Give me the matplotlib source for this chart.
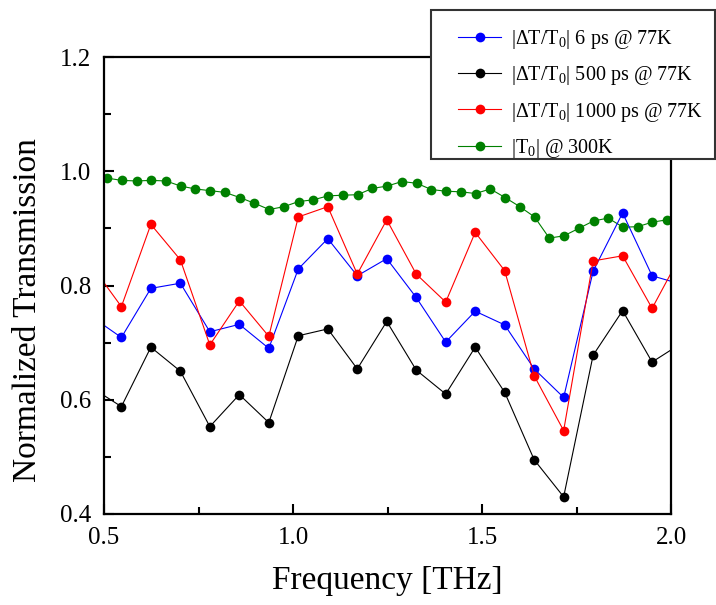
import matplotlib
matplotlib.use('Agg')
import matplotlib.pyplot as plt
from matplotlib.patches import Rectangle
from matplotlib.ticker import MultipleLocator

plt.rcParams['font.family'] = ['Liberation Serif', 'DejaVu Serif']
plt.rcParams['mathtext.fontset'] = 'custom'
plt.rcParams['mathtext.rm'] = 'Liberation Serif'

# frequency points of the pump-probe series (THz)
freq_pp = [0.468, 0.546, 0.624, 0.702, 0.780, 0.858, 0.936, 1.014, 1.092, 1.170, 1.248,
           1.326, 1.404, 1.482, 1.560, 1.638, 1.716, 1.794, 1.872, 1.950, 2.028]
dt_6ps = [0.745, 0.709, 0.795, 0.804, 0.719, 0.732, 0.690, 0.829, 0.882, 0.817, 0.847,
          0.779, 0.701, 0.755, 0.731, 0.654, 0.604, 0.825, 0.927, 0.817, 0.802]
dt_500ps = [0.621, 0.588, 0.692, 0.650, 0.553, 0.609, 0.560, 0.712, 0.724, 0.654, 0.737,
            0.652, 0.610, 0.692, 0.613, 0.495, 0.430, 0.678, 0.756, 0.666, 0.699]
dt_1000ps = [0.834, 0.763, 0.907, 0.845, 0.696, 0.773, 0.711, 0.920, 0.938, 0.820, 0.915,
             0.820, 0.771, 0.893, 0.826, 0.642, 0.546, 0.843, 0.852, 0.760, 0.856]

# room temperature transmission, finer frequency grid
freq_t0 = [0.508, 0.547, 0.586, 0.625, 0.664, 0.703, 0.742, 0.781, 0.820, 0.859,
           0.898, 0.937, 0.976, 1.015, 1.054, 1.093, 1.132, 1.171, 1.210, 1.249,
           1.288, 1.327, 1.366, 1.405, 1.444, 1.483, 1.522, 1.561, 1.600, 1.639,
           1.678, 1.717, 1.756, 1.795, 1.834, 1.873, 1.912, 1.951, 1.990]
t0_300k = [0.988, 0.984, 0.983, 0.984, 0.983, 0.974, 0.969, 0.966, 0.963, 0.954,
           0.944, 0.933, 0.938, 0.947, 0.950, 0.957, 0.958, 0.959, 0.970, 0.974,
           0.982, 0.979, 0.968, 0.965, 0.964, 0.961, 0.969, 0.954, 0.938, 0.920,
           0.883, 0.887, 0.900, 0.913, 0.918, 0.902, 0.903, 0.911, 0.915]

labels = [r'|ΔT/T$_\mathrm{0}$| 6 ps @ 77K',
          r'|ΔT/T$_\mathrm{0}$| 500 ps @ 77K',
          r'|ΔT/T$_\mathrm{0}$| 1000 ps @ 77K',
          r'|T$_\mathrm{0}$| @ 300K']

fig = plt.figure(figsize=(7.16, 6.05), dpi=100)
ax = fig.add_axes([104 / 716, 1 - 514 / 605, 567 / 716, 457 / 605])

style = dict(marker='o', markersize=7, linewidth=0.8, markeredgewidth=0)
lg, = ax.plot(freq_t0, t0_300k, color='#008000', **style)
lb, = ax.plot(freq_pp, dt_6ps, color='#0000ff', **style)
lk, = ax.plot(freq_pp, dt_500ps, color='black', **style)
lr, = ax.plot(freq_pp, dt_1000ps, color='#ff0000', **style)

ax.set_xlim(0.5, 2.0)
ax.set_ylim(0.4, 1.2)
ax.xaxis.set_major_locator(MultipleLocator(0.5))
ax.xaxis.set_minor_locator(MultipleLocator(0.25))
ax.yaxis.set_major_locator(MultipleLocator(0.2))
ax.yaxis.set_minor_locator(MultipleLocator(0.1))
ax.tick_params(which='both', direction='in', width=1.5, labelsize=18)
ax.tick_params(which='major', length=7, pad=9)
ax.tick_params(which='minor', length=5)
for s in ax.spines.values():
    s.set_linewidth(1.6)

ax.set_xlabel('Frequency [THz]', fontsize=24, labelpad=12)
ax.set_ylabel('Normalized Transmission', fontsize=24)
# the label sits a bit below the axes middle in the original
ax.yaxis.set_label_coords(-0.108, 0.446)

# legend box sits partly outside the axes, top right of the figure
box = Rectangle((431 / 716, 1 - 159 / 605), 284 / 716, 149 / 605, transform=fig.transFigure,
                facecolor='white', edgecolor='#333333', linewidth=1.5, zorder=4)
fig.patches.append(box)
leg = fig.legend([lb, lk, lr, lg], labels, loc='center left', frameon=False,
                 bbox_to_anchor=(458 / 716, 1 - 94 / 605), fontsize=14.5,
                 handlelength=2.15, handletextpad=0.5, labelspacing=0.65,
                 borderpad=0, borderaxespad=0)
leg.set_zorder(5)

fig.savefig('out.png', dpi=100)
